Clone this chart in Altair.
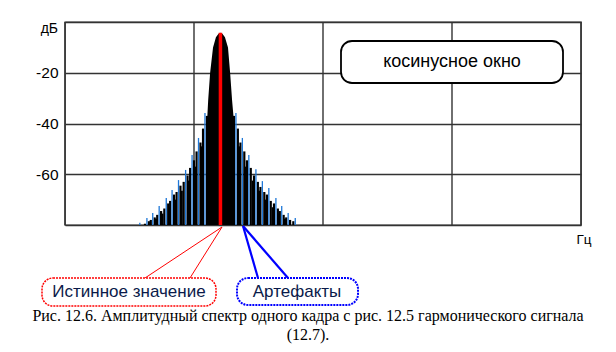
import altair as alt
import pandas as pd

# ---------------- data ----------------
# frequency axis in bins (0..80), level axis in dB (-80..0)
grid_bins = [0, 20, 40, 60, 80]
db_grid = [-80, -70, -60, -50, -40, -30, -20, -10, 0]
db_labels = [-20, -40, -60]

# true spectral line (red)
true_bin = [24.1]
true_db = [-4.2]

# main lobe envelope (black)
lobe_bin = [21.95, 22.05, 22.2, 22.5, 22.95, 23.4, 23.8, 24.1, 24.4, 24.8, 25.27, 25.6, 25.9, 26.15, 26.25]
lobe_db = [-80, -38.0, -30.7, -20.0, -10.0, -6.0, -4.6, -4.2, -4.6, -6.0, -10.0, -20.0, -30.7, -38.0, -80]

# side-lobe peaks (blue stems) - artefacts
peak_bin = [21.7, 20.7, 19.7, 18.7, 17.6, 16.6, 15.7, 14.6, 13.6, 12.7, 11.6,
            26.5, 27.5, 28.5, 29.6, 30.6, 31.6, 32.7, 33.6, 34.6, 35.7]
peak_db = [-35.9, -45.7, -52.4, -58.3, -62.3, -66.2, -69.4, -72.5, -75.3, -77.2, -79.1,
           -35.9, -45.7, -52.4, -58.0, -62.7, -65.4, -69.4, -72.5, -75.3, -77.2]

# lower spectral lines inside the side lobes (black stems)
black_bin = [21.4, 22.0,
             20.4, 21.0, 21.2,
             19.4, 20.0, 20.2,
             18.4, 19.0, 19.2,
             17.3, 17.9, 18.1,
             16.3, 16.9, 17.1,
             15.4, 16.0, 16.2,
             14.3, 14.9, 15.1,
             13.3, 13.9, 14.1,
             12.4, 13.0,
             26.8, 26.2,
             27.8, 27.2, 27.0,
             28.8, 28.2, 28.0,
             29.9, 29.3, 29.1,
             30.9, 30.3, 30.1,
             31.9, 31.3, 31.1,
             33.0, 32.4, 32.2,
             33.9, 33.3, 33.1,
             34.9, 34.3, 34.1,
             35.4]
black_db = [-42.0, -37.0,
            -51.0, -47.5, -49.0,
            -57.5, -54.5, -57.0,
            -63.0, -60.5, -62.5,
            -67.0, -64.5, -66.5,
            -70.5, -68.0, -70.0,
            -73.5, -71.5, -73.0,
            -76.0, -74.5, -75.5,
            -78.0, -77.0, -77.5,
            -79.5, -78.5,
            -42.0, -37.0,
            -51.0, -47.5, -49.0,
            -57.5, -54.5, -57.0,
            -63.0, -60.5, -62.5,
            -67.0, -65.0, -66.5,
            -70.5, -68.0, -70.0,
            -73.5, -71.5, -73.0,
            -76.0, -74.5, -75.5,
            -78.0, -77.0, -77.5,
            -78.5]

window_label = "косинусное окно"
y_unit = "дБ"
x_unit = "Гц"
true_label = "Истинное значение"
artefact_label = "Артефакты"
caption_1 = "Рис. 12.6. Амплитудный спектр одного кадра с рис. 12.5 гармонического сигнала"
caption_2 = "(12.7)."

# ---------------- chart ----------------
W, H = 516, 203
X0, Y0 = 65, 22   # plot origin within the page

xs = alt.Scale(domain=[0, 80], nice=False, zero=False)
ys = alt.Scale(domain=[-80, 0], nice=False, zero=False)

one = pd.DataFrame({"a": [0]})

frame = alt.Chart(pd.DataFrame({"db": db_grid})).mark_rule(opacity=0).encode(
    x=alt.value(0),
    y=alt.Y("db:Q", scale=ys,
            axis=alt.Axis(values=db_grid, grid=True, ticks=False, domain=False,
                          title=None, labelFontSize=15.5, labelFont="Liberation Sans",
                          labelColor="#000", labelPadding=7,
                          gridColor="#333", gridWidth=1.4,
                          labelExpr="(datum.value==-20||datum.value==-40||datum.value==-60) ? '-' + (-datum.value) : ''")),
)
vgrid = alt.Chart(pd.DataFrame({"bin": grid_bins})).mark_rule(color="#333", strokeWidth=1.4).encode(
    x=alt.X("bin:Q", scale=xs, axis=None),
)

lobe_df = pd.DataFrame({"bin": lobe_bin, "db": lobe_db, "base": -80})
lobe = alt.Chart(lobe_df).mark_area(color="black").encode(
    x=alt.X("bin:Q", scale=xs, axis=None),
    y=alt.Y("db:Q", scale=ys),
    y2="base:Q",
)

black_df = pd.DataFrame({"bin": black_bin, "db": black_db, "base": -80})
blacks = alt.Chart(black_df).mark_rule(color="black", strokeWidth=2.2).encode(
    x=alt.X("bin:Q", scale=xs, axis=None),
    y=alt.Y("db:Q", scale=ys),
    y2="base:Q",
)

peak_df = pd.DataFrame({"bin": peak_bin, "db": peak_db, "base": -80})
peaks = alt.Chart(peak_df).mark_rule(color="#1f78d8", strokeWidth=1.3).encode(
    x=alt.X("bin:Q", scale=xs, axis=None),
    y=alt.Y("db:Q", scale=ys),
    y2="base:Q",
)

true_df = pd.DataFrame({"bin": true_bin, "db": true_db, "base": -80})
true_line = alt.Chart(true_df).mark_rule(color="#ff0000", strokeWidth=3.5).encode(
    x=alt.X("bin:Q", scale=xs, axis=None),
    y=alt.Y("db:Q", scale=ys),
    y2="base:Q",
)

def px(v):
    return alt.value(v - X0)

def py(v):
    return alt.value(v - Y0)

def box(x1, y1, x2, y2, stroke, dash=None, width=1.5):
    kw = dict(fill="white", stroke=stroke, strokeWidth=width, cornerRadius=11)
    if dash:
        kw["strokeDash"] = dash
    return alt.Chart(one).mark_rect(**kw).encode(x=px(x1), x2=px(x2), y=py(y1), y2=py(y2))

def seg(x1, y1, x2, y2, color, width):
    return alt.Chart(one).mark_rule(color=color, strokeWidth=width).encode(
        x=px(x1), x2=px(x2), y=py(y1), y2=py(y2))

def label(txt, x, y, size, color="#000", font="Liberation Sans", align="center"):
    return alt.Chart(pd.DataFrame({"t": [txt]})).mark_text(
        fontSize=size, font=font, color=color, align=align, baseline="middle"
    ).encode(x=px(x), y=py(y), text="t:N")

window_box = box(341, 41, 563, 83, "#000", width=1.8)
window_text = label(window_label, 452, 62, 18)

red_box = box(42, 278, 216, 306, "#ff0000", dash=[2, 1], width=1.5)
blue_box = box(237, 278, 358, 305, "#0000ff", dash=[2, 1], width=2)
red_text = label(true_label, 129, 292, 17, color="#0a1a4a")
blue_text = label(artefact_label, 297, 292, 17, color="#0a1a4a")

red_ptr = seg(145, 278, 222, 227, "#ff0000", 1) + seg(190, 278, 222, 227, "#ff0000", 1)
blue_ptr = seg(258, 278, 243, 226, "#0000ff", 2.2) + seg(288, 278, 243, 226, "#0000ff", 2.2)

unit_y = label(y_unit, 58, 29, 14, align="right")
unit_x = label(x_unit, 584, 240, 13.5)
cap1 = label(caption_1, 308, 316, 16, font="Liberation Serif")
cap2 = label(caption_2, 308, 335, 16, font="Liberation Serif")

chart = alt.layer(
    frame, vgrid, lobe, blacks, peaks, true_line,
    window_box, window_text,
    red_ptr, blue_ptr, red_box, blue_box, red_text, blue_text,
    unit_y, unit_x, cap1, cap2,
).properties(
    width=W, height=H,
    autosize=alt.AutoSizeParams(type="none"),
    padding={"left": X0, "top": Y0, "right": 616 - X0 - W, "bottom": 352 - Y0 - H},
    background="white",
).configure_view(stroke="#333", strokeWidth=1.4)

chart.save("out.html", embed_options={"renderer": "svg", "actions": False})
